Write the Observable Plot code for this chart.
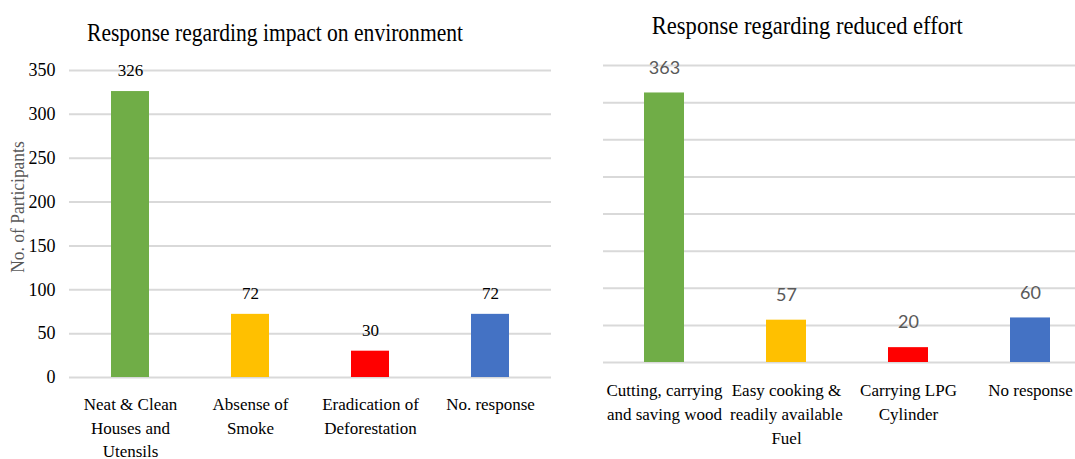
<!DOCTYPE html>
<html>
<head>
<meta charset="utf-8">
<script src="https://cdn.jsdelivr.net/npm/d3@7"></script>
<script src="https://cdn.jsdelivr.net/npm/@observablehq/plot@0.6"></script>
<style>
  html, body { margin: 0; padding: 0; background: #fff; }
  body { width: 1075px; height: 459px; overflow: hidden; position: relative; }
  .panel { position: absolute; top: 0; }
  .panel svg text { font-family: "Liberation Serif", serif; }
  #right svg g.vals text { font-family: "Lato", sans-serif; }
  .title { position: absolute; white-space: nowrap; font-family: "Liberation Serif", serif; font-size: 25px; color: #000; transform-origin: center center; line-height: 1; }
  .ylabel { position: absolute; white-space: nowrap; font-family: "Liberation Serif", serif; font-size: 19px; color: #595959; transform: translate(-50%, -50%) rotate(-90deg) scaleX(0.92); }
</style>
</head>
<body>
<div id="left" class="panel" style="left:0px"></div>
<div id="right" class="panel" style="left:578px"></div>
<div class="title" id="t1">Response regarding impact on environment</div>
<div class="title" id="t2">Response regarding reduced effort</div>
<div class="ylabel" style="left:18px; top:207px">No. of Participants</div>
<script>
// ---- data ----
const envCategories = ["Neat & Clean\nHouses and\nUtensils", "Absense of\nSmoke", "Eradication of\nDeforestation", "No. response"];
const envValues = [326, 72, 30, 72];
const effortCategories = ["Cutting, carrying\nand saving wood", "Easy cooking &\nreadily available\nFuel", "Carrying LPG\nCylinder", "No response"];
const effortValues = [363, 57, 20, 60];
const barColors = ["#70AD47", "#FFC000", "#FF0000", "#4472C4"];
const envTicks = [0, 50, 100, 150, 200, 250, 300, 350];
const effortTicks = [0, 50, 100, 150, 200, 250, 300, 350, 400];

const envData = envCategories.map((c, i) => ({cat: c, value: envValues[i]}));
const effortData = effortCategories.map((c, i) => ({cat: c, value: effortValues[i]}));

const serif = "Liberation Serif";

// ---- left chart ----
const left = Plot.plot({
  width: 565, height: 459,
  marginTop: 70, marginBottom: 82, marginLeft: 69, marginRight: 14,
  style: {background: "transparent", overflow: "visible", fontFamily: serif},
  x: {domain: envCategories, paddingInner: 0.685, paddingOuter: 0.3425, axis: null},
  y: {domain: [0, 350], axis: null},
  color: {domain: envCategories, range: barColors},
  marks: [
    Plot.ruleY(envTicks, {stroke: "#d9d9d9", strokeWidth: 2}),
    Plot.barY(envData, {x: "cat", y: "value", fill: "cat"}),
    Plot.axisY(envTicks, {tickSize: 0, tickPadding: 14, fontSize: 18, fontFamily: serif, fill: "#000", label: null}),
    Plot.text(envData, {x: "cat", y: "value", text: d => String(d.value), dy: -21, fontSize: 17, fontFamily: serif, fill: "#000"}),
    Plot.text(envData, {x: "cat", y: () => 0, text: "cat", lineAnchor: "top", dy: 16, lineHeight: 1.38, fontSize: 17, fontFamily: serif, fill: "#000"})
  ]
});
document.getElementById("left").appendChild(left);

// ---- right chart ----
const right = Plot.plot({
  width: 497, height: 459,
  marginTop: 65, marginBottom: 97, marginLeft: 25, marginRight: 0,
  style: {background: "transparent", overflow: "visible", fontFamily: serif},
  x: {domain: effortCategories, range: [25, 513], paddingInner: 0.672, paddingOuter: 0.336, axis: null},
  y: {domain: [0, 400], axis: null},
  color: {domain: effortCategories, range: barColors},
  marks: [
    Plot.ruleY(effortTicks, {stroke: "#d9d9d9", strokeWidth: 2}),
    Plot.barY(effortData, {x: "cat", y: "value", fill: "cat"}),
    Plot.text(effortData, {x: "cat", y: "value", text: d => String(d.value), dy: -25, fontSize: 18, fontFamily: "Lato", fill: "#595959", className: "vals"}),
    Plot.text(effortData, {x: "cat", y: () => 0, text: "cat", lineAnchor: "top", dy: 16, lineHeight: 1.42, fontSize: 17, fontFamily: serif, fill: "#000"})
  ]
});
document.getElementById("right").appendChild(right);
// mark the value-label group (fallback if className unsupported)
{
  const groups = right.querySelectorAll("g[aria-label='text']");
  if (groups.length) groups[0].classList.add("vals");
}

// ---- titles: fit condensed widths ----
function placeTitle(id, cx, cy, targetW) {
  const el = document.getElementById(id);
  const r = el.getBoundingClientRect();
  const s = targetW / r.width;
  el.style.left = (cx - r.width / 2) + "px";
  el.style.top = (cy - r.height / 2) + "px";
  el.style.transform = `scaleX(${s})`;
}
placeTitle("t1", 275, 32, 376);
placeTitle("t2", 807, 25, 311);
</script>
</body>
</html>
